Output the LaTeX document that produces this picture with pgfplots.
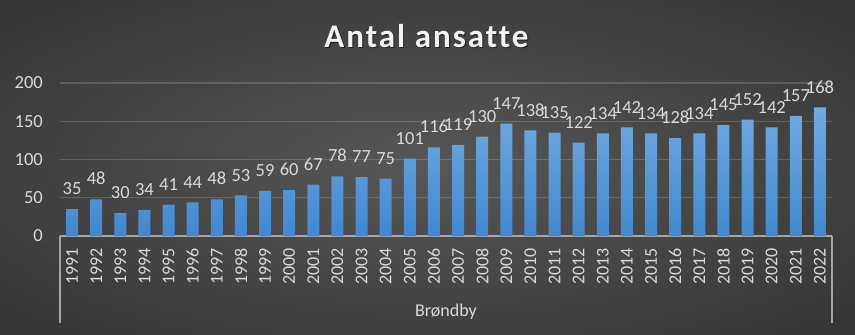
\documentclass[border=0pt]{standalone}
\usepackage{pgfplots}
\pgfplotsset{compat=1.18}
\usepackage{fontspec}
\setmainfont{Carlito}
\newfontfamily\titlefont[LetterSpace=6,Ligatures=NoCommon]{Carlito}
\definecolor{bgin}{HTML}{575757}
\definecolor{bgout}{HTML}{262626}
\definecolor{labelc}{HTML}{D9D9D9}
\definecolor{axisc}{HTML}{A6A6A6}
\definecolor{barTop}{HTML}{72AAE0}
\definecolor{barBot}{HTML}{4288D0}
\pgfdeclareradialshading{bgshade}{\pgfpoint{0bp}{0bp}}{color(0bp)=(bgin); color(50bp)=(bgout); color(72bp)=(bgout)}
\begin{document}
\begin{tikzpicture}
\shade[shading=bgshade] (0,0) rectangle (855pt,335pt);
\node[anchor=base, font=\titlefont\bfseries\fontsize{33}{36}\selectfont, text=black, opacity=0.5] at (427.5pt,286pt) {Antal ansatte};
\node[anchor=base, font=\titlefont\bfseries\fontsize{33}{36}\selectfont, text=white!95!black] at (426.5pt,287pt) {Antal ansatte};
\begin{axis}[
  at={(60pt,99pt)}, anchor=south west,
  scale only axis, width=772pt, height=153pt,
  xmin=-0.5, xmax=31.5, ymin=0, ymax=200,
  ytick={0,50,100,150,200},
  xtick={0,...,31},
  xticklabels={1991,1992,1993,1994,1995,1996,1997,1998,1999,2000,2001,2002,2003,2004,2005,2006,2007,2008,2009,2010,2011,2012,2013,2014,2015,2016,2017,2018,2019,2020,2021,2022},
  major tick length=0pt,
  axis x line*=bottom, axis y line*=left,
  x axis line style={draw=axisc, line width=1.5pt, -},
  y axis line style={draw=none},
  ymajorgrids,
  major grid style={draw=white, opacity=0.16, line width=1.3pt},
  yticklabel style={font=\fontsize{18.5}{20}\selectfont, text=labelc, anchor=east, inner ysep=0pt, inner xsep=17pt},
  xticklabel style={font=\fontsize{18}{20}\selectfont, text=labelc, rotate=90, anchor=east, inner ysep=0pt, inner xsep=12pt},
  clip=false,
  /pgf/number format/assume math mode=true,
]
\addplot[ybar, bar width=12pt, draw=none, top color=barTop, bottom color=barBot,
  nodes near coords,
  every node near coord/.append style={font=\fontsize{18.5}{20}\selectfont, text=labelc, anchor=south, inner sep=0pt, yshift=14pt},
] coordinates {
(0,35) (1,48) (2,30) (3,34) (4,41) (5,44) (6,48) (7,53) (8,59) (9,60)
(10,67) (11,78) (12,77) (13,75) (14,101) (15,116) (16,119) (17,130) (18,147) (19,138)
(20,135) (21,122) (22,134) (23,142) (24,134) (25,128) (26,134) (27,145) (28,152) (29,142)
(30,157) (31,168)
};
\draw[axisc, line width=1.5pt] (rel axis cs:0,0) -- ([yshift=-87pt]rel axis cs:0,0);
\draw[axisc, line width=1.5pt] (rel axis cs:1,0) -- ([yshift=-87pt]rel axis cs:1,0);
\node[font=\fontsize{18}{20}\selectfont, text=labelc] at ([yshift=-76pt]rel axis cs:0.5,0) {Brøndby};
\end{axis}
\pgfresetboundingbox
\useasboundingbox (0,0) rectangle (855pt,335pt);
\end{tikzpicture}
\end{document}
